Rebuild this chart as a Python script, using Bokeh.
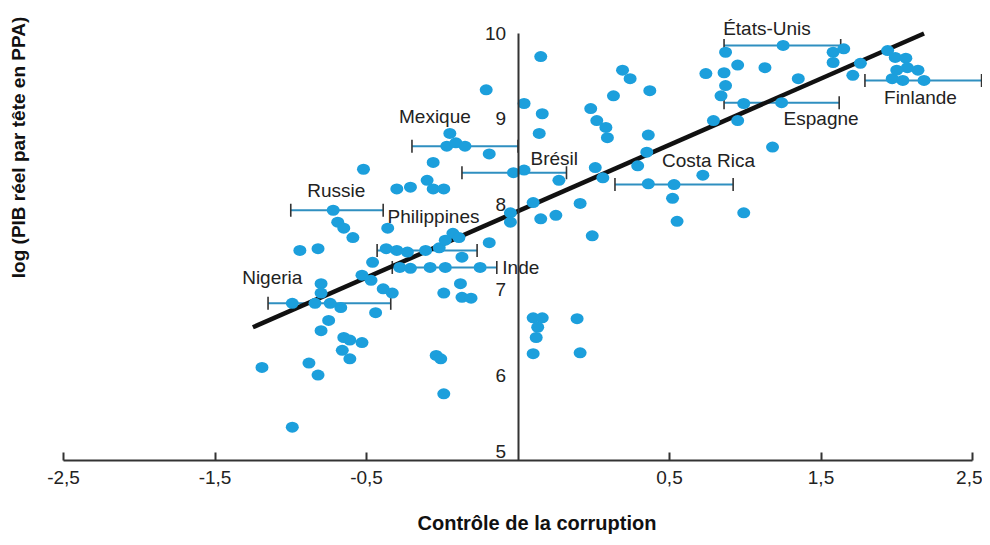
import math
from bokeh.plotting import figure
from bokeh.models import (ColumnDataSource, FixedTicker, Range1d,
                          Whisker, TeeHead, Label, LinearAxis)
from bokeh.embed import file_html
from bokeh.resources import INLINE

# ---------------- data ----------------
# x: corruption-control score in axis position units, y: log real GDP per head (PPP)
pts_x = [
    -1.02, -1.19, -1.15, -1.09, -1.44, -1.32, -0.86, -0.87, -0.80, -0.73,
    -0.52, -0.96, -0.78, -0.71, -0.58, -0.25, -1.30, -1.30, -1.49, -1.34,
    -1.17, -0.94, -1.03, -0.97, -0.89, -0.83, -1.25, -1.30, -1.15, -1.11,
    -1.03, -1.16, -1.11, -1.69, -1.38, -1.32, -1.49, -0.54, -0.51, -0.49,
    -0.80, -0.71, -0.60, -0.56, -0.49, -0.56, -0.45, -0.47, -0.41, -0.21,
    -0.19, 0.04, 0.16, 0.14, 0.15, 0.04, 0.27, 0.10, -0.05, -0.05,
    0.15, 0.25, 0.41, 0.49, -0.43, -0.39, -0.48, -0.19, -0.37, -0.38,
    -0.49, -0.37, -0.31, 0.10, 0.16, 0.13, 0.12, 0.10, 0.39, 0.41,
    0.48, 0.52, 0.58, 0.59, 0.63, 0.51, 0.56, 0.69, 0.74, 0.87,
    0.86, 0.85, 0.79, 0.86, 1.22, 1.02, 1.05, 1.49, 1.29, 1.45,
    1.68, 1.24, 1.36, 1.45, 1.63, 1.37, 1.34, 1.49, 1.37, 2.08,
    2.15, 2.08, 2.26, 2.21, 1.85, 2.44, 2.49, 2.56, 2.57, 2.64,
    2.47, 2.54, 2.50,
]
pts_y = [
    8.41, 7.79, 7.72, 7.61, 7.46, 7.48, 7.72, 7.48, 7.46, 7.44,
    7.49, 7.32, 7.26, 7.25, 7.26, 7.26, 7.07, 6.96, 6.84, 6.84,
    6.79, 6.73, 7.17, 7.11, 7.01, 6.96, 6.64, 6.52, 6.44, 6.41,
    6.38, 6.29, 6.19, 6.09, 6.14, 6.00, 5.39, 6.23, 6.19, 5.78,
    8.18, 8.20, 8.28, 8.18, 8.18, 8.49, 8.83, 8.68, 8.72, 9.34,
    8.59, 9.18, 9.06, 8.83, 9.73, 8.40, 8.28, 8.02, 7.90, 7.79,
    7.83, 7.87, 8.01, 7.63, 7.66, 7.61, 7.58, 7.55, 7.38, 7.07,
    6.96, 6.91, 6.90, 6.67, 6.67, 6.56, 6.44, 6.25, 6.66, 6.26,
    9.12, 8.98, 8.90, 8.78, 9.27, 8.43, 8.31, 9.57, 9.47, 9.33,
    8.81, 8.61, 8.45, 8.24, 8.34, 8.07, 7.80, 7.90, 8.98, 8.98,
    8.67, 9.53, 9.54, 9.63, 9.60, 9.39, 9.27, 9.18, 9.78, 9.78,
    9.82, 9.66, 9.65, 9.51, 9.47, 9.80, 9.72, 9.71, 9.60, 9.57,
    9.47, 9.45, 9.57,
]

countries = ["États-Unis", "Finlande", "Espagne", "Mexique", "Brésil",
             "Costa Rica", "Russie", "Philippines", "Inde", "Nigeria"]
country_x = [1.75, 2.68, 1.74, -0.35, -0.03, 1.03, -1.22, -0.61, -0.48, -1.24]
country_y = [9.86, 9.45, 9.19, 8.68, 8.37, 8.23, 7.93, 7.46, 7.26, 6.84]
country_lo = [1.36, 2.29, 1.36, -0.70, -0.37, 0.64, -1.50, -0.93, -0.83, -1.65]
country_hi = [2.13, 3.06, 2.12, 0.00, 0.32, 1.42, -0.89, -0.27, -0.14, -0.84]

fit_x = [-1.75, 2.68]
fit_y = [6.56, 10.0]

x_ticks = [-3, -2, -1, 1, 2, 3]
x_tick_labels = ["-2,5", "-1,5", "-0,5", "0,5", "1,5", "2,5"]
y_ticks = [5, 6, 7, 8, 9, 10]

x_title = "Contrôle de la corruption"
y_title = "log (PIB réel par tête en PPA)"

# ---------------- layout / style ----------------
label_dx = [-60, -40, 2, -66, 17, -12, -26, -38, 57, -88]
label_dy = [-17, 17, 16, -30, -14, -24, -20, -34, 0, -26]

DOT = "#1c9fdc"
BAR = "#2f8fc0"
AXIS = "#333333"
TXT = "#222222"
FONT = "Liberation Sans"
TITLE_FONT = "Liberation Sans"

# the frame covers the whole figure; axes are drawn at fixed data locations
p = figure(frame_width=982, frame_height=537,
           x_range=Range1d(-3.416, 3.066), y_range=Range1d(4.098, 10.386),
           x_axis_location=None, y_axis_location=None,
           toolbar_location=None, output_backend="svg",
           min_border_left=0, min_border_right=0, min_border_top=0,
           min_border_bottom=0)
p.title.visible = False
p.grid.visible = False
p.outline_line_color = None
p.background_fill_color = "white"
p.border_fill_color = "white"

# x axis along y = 5
xa = LinearAxis(fixed_location=y_ticks[0], ticker=FixedTicker(ticks=x_ticks),
                major_label_overrides={t: l for t, l in zip(x_ticks, x_tick_labels)},
                bounds=(x_ticks[0], x_ticks[-1]),
                axis_line_color=AXIS, axis_line_width=2,
                major_tick_line_color=AXIS, major_tick_line_width=2,
                major_tick_in=8, major_tick_out=0,
                minor_tick_line_color=None, major_label_standoff=11,
                major_label_text_font=FONT, major_label_text_font_size="19px",
                major_label_text_color=TXT)
p.add_layout(xa, "below")

# y axis along x = 0
ya = LinearAxis(fixed_location=0, ticker=FixedTicker(ticks=y_ticks[1:]),
                bounds=(y_ticks[0], y_ticks[-1]),
                axis_line_color=AXIS, axis_line_width=2,
                major_tick_line_color=None, minor_tick_line_color=None,
                major_tick_in=0, major_tick_out=0, major_label_standoff=12,
                major_label_text_font=FONT, major_label_text_font_size="19px",
                major_label_text_color=TXT)
p.add_layout(ya, "left")
p.add_layout(Label(x=0, y=y_ticks[0], text=str(y_ticks[0]), x_offset=-12, y_offset=2,
                   text_align="right", text_baseline="bottom",
                   text_font=FONT, text_font_size="19px", text_color=TXT))

# axis titles
p.add_layout(Label(x=0.125, y=4.262, text=x_title, text_align="center",
                   text_baseline="middle", text_font=TITLE_FONT,
                   text_font_style="bold", text_font_size="20px",
                   text_color="#111111"))
p.add_layout(Label(x=-3.297, y=8.665, text=y_title, angle=math.pi / 2,
                   text_align="center", text_baseline="middle",
                   text_font=TITLE_FONT, text_font_style="bold",
                   text_font_size="19px", text_color="#111111"))

# error bars
csrc = ColumnDataSource(dict(name=countries, x=country_x, y=country_y,
                             lo=country_lo, hi=country_hi,
                             dx=label_dx, dy=label_dy))
wh = Whisker(source=csrc, base="y", lower="lo", upper="hi", dimension="width",
             line_color=BAR, line_width=2,
             lower_head=TeeHead(size=13, line_color=AXIS, line_width=1.6),
             upper_head=TeeHead(size=13, line_color=AXIS, line_width=1.6))
p.add_layout(wh)

# regression line
p.line(fit_x, fit_y, line_color="#111111", line_width=4.5)

# points
allx = pts_x + country_x
ally = pts_y + country_y
p.ellipse(x=allx, y=ally, width=13, height=11, width_units="screen",
          height_units="screen", fill_color=DOT, line_color=None)

# country labels
p.text(x="x", y="y", text="name", x_offset="dx", y_offset="dy", source=csrc,
       text_align="left", text_baseline="middle", text_font={"value": FONT},
       text_font_size="19px", text_color=TXT)

open("out.html", "w").write(file_html(p, INLINE))
